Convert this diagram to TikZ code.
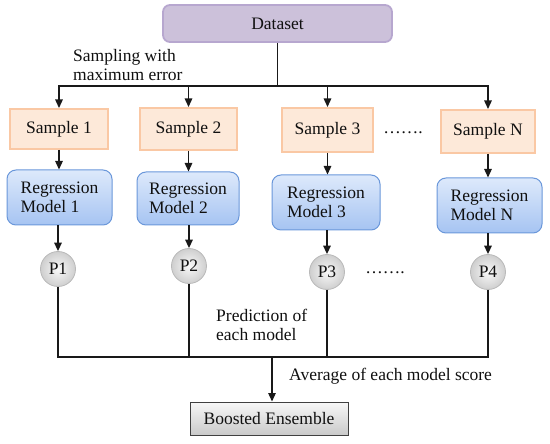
\documentclass[tikz,border=0pt]{standalone}
\usepackage{fontspec}
\setmainfont{Liberation Serif}
\usetikzlibrary{arrows.meta,shadings}
\definecolor{txt}{HTML}{101010}
\definecolor{dsfill}{HTML}{CCC1DA}
\definecolor{dsdraw}{HTML}{B7A7CF}
\definecolor{smpfill}{HTML}{FDE9D9}
\definecolor{smpdraw}{HTML}{FAC8A4}
\definecolor{regtop}{HTML}{DDE9FB}
\definecolor{regbot}{HTML}{A6C4F2}
\definecolor{regdraw}{HTML}{6A97DA}
\begin{document}
\begin{tikzpicture}[x=1pt,y=-1pt,font=\fontsize{17.5}{19.5}\selectfont,
  base/.style={inner sep=0pt,align=center,text=txt},
  dsbox/.style={base,rectangle,rounded corners=7pt,fill=dsfill,draw=dsdraw,line width=1.8pt,minimum width=229pt,minimum height=37pt},
  smpbox/.style={base,rectangle,fill=smpfill,draw=smpdraw,line width=2pt,minimum height=42pt},
  regbox/.style={base,align=left,rectangle,rounded corners=9pt,top color=regtop,bottom color=regbot,draw=regdraw,line width=1pt,minimum height=55pt},
  pnode/.style={base,circle,inner color=gray!5,outer color=gray!38,draw=gray!55,line width=0.8pt,minimum size=35pt},
  bebox/.style={base,rectangle,top color=gray!6,bottom color=gray!42,draw=black!75,line width=1pt,minimum width=158pt,minimum height=33pt},
  conn/.style={line width=1.4pt,draw=black!90},
  arr/.style={conn,-{Triangle[length=8.5pt,width=7.5pt]}},
  lbl/.style={base,align=left,anchor=west}]
\useasboundingbox (0,0) rectangle (550,444);

\node[dsbox] (ds) at (277.5,23.5) {Dataset};

\node[smpbox,minimum width=98pt,minimum height=40pt] (s1) at (59,129) {Sample 1};
\node[smpbox,minimum width=97pt] (s2) at (188.5,129) {Sample 2};
\node[smpbox,minimum width=91pt,minimum height=44pt] (s3) at (327.5,130) {Sample 3};
\node[smpbox,minimum width=94pt,minimum height=43pt] (sN) at (488,131.5) {Sample N};

\node[regbox,minimum width=105pt] (m1) at (59.5,197.5) {Regression\\Model 1};
\node[regbox,minimum width=102pt,minimum height=53pt] (m2) at (188,198.5) {Regression\\Model 2};
\node[regbox,minimum width=108pt] (m3) at (326,202.5) {Regression\\Model 3};
\node[regbox,minimum width=105pt] (mN) at (489.5,205.5) {Regression\\Model N};

\node[pnode] (p1) at (58,269) {P1};
\node[pnode] (p2) at (189,266) {P2};
\node[pnode] (p3) at (327,272) {P3};
\node[pnode] (p4) at (488,272) {P4};

\node[bebox] (be) at (269,418.5) {Boosted Ensemble};

\node[lbl] (lsamp) at (73,65) {Sampling with\\maximum error};
\node[base] (dots1) at (403,133) {…….};
\node[base] (dots2) at (385,273) {…….};
\node[lbl] (lpred) at (216,325) {Prediction of\\each model};
\node[lbl] (lavg) at (289,376) {Average of each model score};

% top distribution
\coordinate (t) at (277.5,86);
\draw[conn] (ds.south) -- (t);
\draw[arr] (t) -| (s1.north);
\draw[arr] (t) -| (s2.north);
\draw[arr] (t) -| (s3.north);
\draw[arr] (t) -| (sN.north);

% sample -> model
\draw[arr] (s1.south) -- (s1.south |- m1.north);
\draw[arr] (s2.south) -- (s2.south |- m2.north);
\draw[arr] (s3.south) -- (s3.south |- m3.north);
\draw[arr] (sN.south) -- (sN.south |- mN.north);

% model -> prediction
\draw[arr] (p1.north |- m1.south) -- (p1.north);
\draw[arr] (p2.north |- m2.south) -- (p2.north);
\draw[arr] (p3.north |- m3.south) -- (p3.north);
\draw[arr] (p4.north |- mN.south) -- (p4.north);

% collect
\coordinate (b) at (272,357);
\draw[conn] (p1.south) |- (b);
\draw[conn] (p2.south) |- (b);
\draw[conn] (p3.south) |- (b);
\draw[conn] (p4.south) |- (b);
\draw[arr] (b) -- (b |- be.north);
\end{tikzpicture}
\end{document}
